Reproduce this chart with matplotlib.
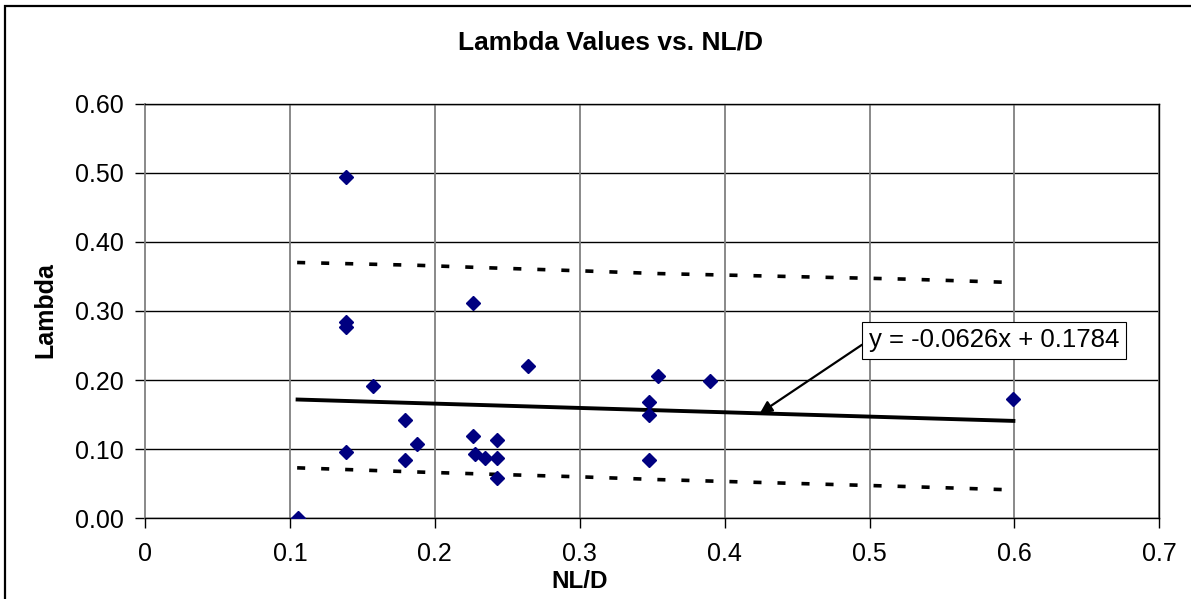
import matplotlib
matplotlib.use("Agg")
import matplotlib.pyplot as plt
from matplotlib.patches import Rectangle

plt.rcParams["font.family"] = ["Liberation Sans", "DejaVu Sans"]
plt.rcParams["lines.scale_dashes"] = False

# scatter data
nl_d = [0.1053, 0.1384, 0.1384, 0.1384, 0.1384, 0.1575, 0.1795, 0.1795, 0.1878,
        0.2265, 0.2265, 0.2278, 0.2347, 0.2430, 0.2430, 0.2430, 0.2640, 0.3479,
        0.3479, 0.3479, 0.3537, 0.3896, 0.5993]
lam = [0.000, 0.494, 0.284, 0.277, 0.096, 0.191, 0.142, 0.084, 0.108,
       0.312, 0.119, 0.093, 0.087, 0.113, 0.087, 0.058, 0.220, 0.168,
       0.149, 0.084, 0.206, 0.199, 0.173]

# linear trendline (from the equation shown on the chart)
slope = -0.0626
intercept = 0.1784
trend_label = "y = -0.0626x + 0.1784"

# dashed band lines
band_x = [0.105, 0.1875, 0.2345, 0.30, 0.354, 0.5245, 0.60]
band_upper = [0.370, 0.366, 0.3625, 0.358, 0.354, 0.346, 0.341]
band_lower = [0.073, 0.067, 0.064, 0.060, 0.056, 0.046, 0.041]

x_ticks = [0, 0.1, 0.2, 0.3, 0.4, 0.5, 0.6, 0.7]
y_ticks = [0.0, 0.1, 0.2, 0.3, 0.4, 0.5, 0.6]

fig = plt.figure(figsize=(11.91, 5.99), dpi=100)
ax = fig.add_axes([145 / 1191, 1 - 518.3 / 599, (1159.3 - 145) / 1191, (518.3 - 103.5) / 599])

ax.set_xlim(0, 0.7)
ax.set_ylim(0, 0.6)
ax.set_xticks(x_ticks)
ax.set_xticklabels([f"{t:g}" for t in x_ticks])
ax.set_yticks(y_ticks)
ax.set_yticklabels([f"{t:.2f}" for t in y_ticks])
ax.tick_params(axis="both", labelsize=18, direction="out", length=7, width=1, color="black")
ax.tick_params(axis="x", pad=10)
ax.tick_params(axis="y", pad=8)

for y in y_ticks:
    ax.axhline(y, color="black", lw=1.0, zorder=1)
for x in x_ticks[1:]:
    ax.axvline(x, color="#808080", lw=1.3, zorder=1)

for side in ["top", "bottom", "right"]:
    ax.spines[side].set_color("black")
    ax.spines[side].set_linewidth(1.0)
ax.spines["left"].set_color("#808080")
ax.spines["left"].set_linewidth(1.3)

ax.plot(band_x, band_upper, color="black", lw=2.6, dashes=[5.8, 11.5], zorder=2)
ax.plot(band_x, band_lower, color="black", lw=2.6, dashes=[5.8, 11.5], zorder=2)

tx = [min(nl_d), max(nl_d)]
ax.plot(tx, [slope * v + intercept for v in tx], color="black", lw=2.8, zorder=3)

ax.plot(nl_d, lam, linestyle="none", marker="D", markersize=7.4,
        color="#000080", markeredgecolor="#000080", zorder=4)

ax.annotate(
    trend_label,
    xy=(0.4243, slope * 0.4243 + intercept),
    xytext=(0.4995, 0.2576),
    ha="left", va="center", fontsize=18.5,
    bbox=dict(boxstyle="square,pad=0.25", fc="white", ec="black", lw=0.8),
    arrowprops=dict(arrowstyle="-|>", color="black", lw=1.6, mutation_scale=18,
                    relpos=(0, 0.5), shrinkA=0, shrinkB=0),
    zorder=5,
)

fig.text(611 / 1191, 1 - 42 / 599, "Lambda Values vs. NL/D", ha="center", va="center",
         fontsize=19, fontweight="bold")
fig.text(580 / 1191, 1 - 581 / 599, "NL/D", ha="center", va="center",
         fontsize=17.5, fontweight="bold")
fig.text(45 / 1191, 1 - 310 / 599, "Lambda", ha="center", va="center",
         fontsize=18, fontweight="bold", rotation=90)

fig.patches.append(Rectangle((5 / 1191, -0.1), 1.2, 1.1 - 6 / 599, transform=fig.transFigure,
                             fill=False, ec="black", lw=1.6))

fig.savefig("out.png", dpi=100)
